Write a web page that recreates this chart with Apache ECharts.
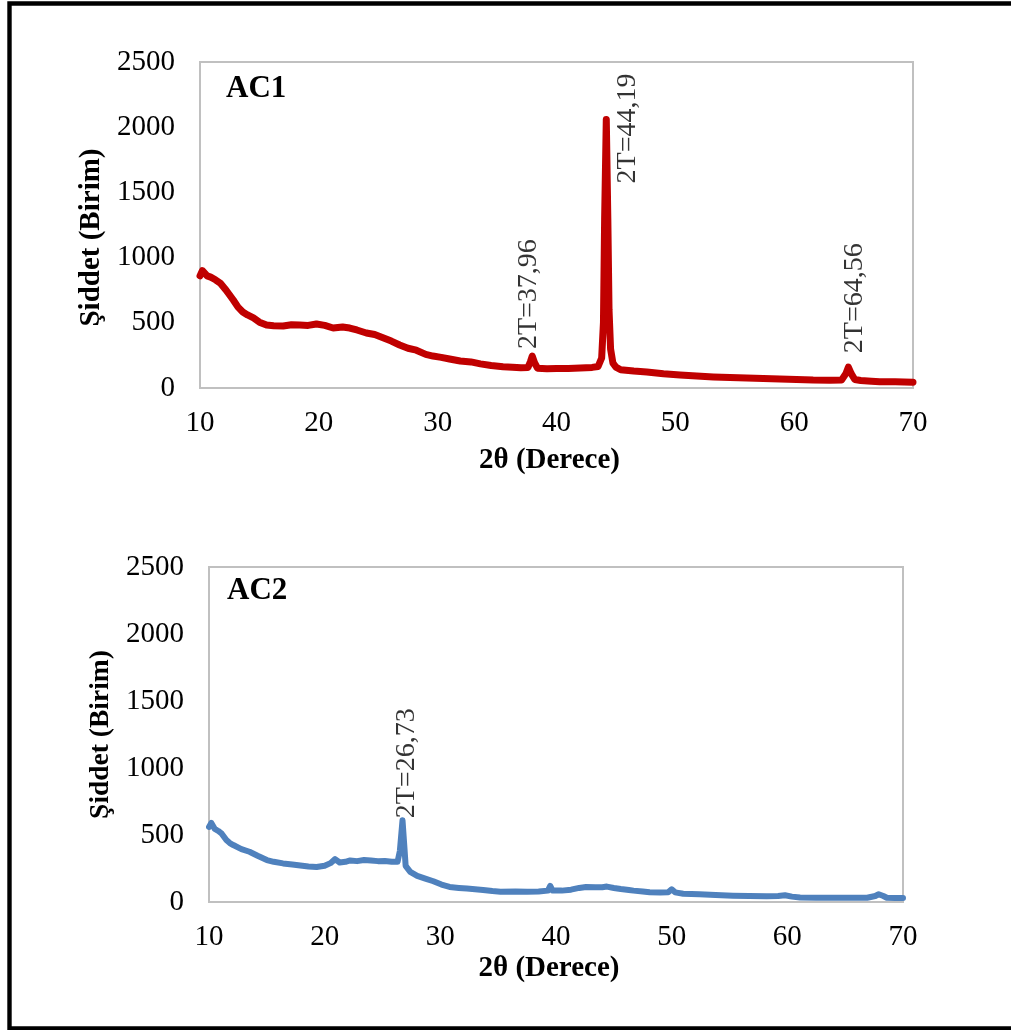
<!DOCTYPE html>
<html>
<head>
<meta charset="utf-8">
<title>XRD AC1 / AC2</title>
<script src="https://cdn.jsdelivr.net/npm/echarts@6/dist/echarts.min.js"></script>
<style>
  html, body { margin: 0; padding: 0; background: #fff; }
  #chart { width: 1011px; height: 1030px; }
</style>
</head>
<body>
<div id="chart"></div>
<script>
// 2θ (degrees) and intensity for sample AC1
const ac1Angle = [
  10.0, 10.2, 10.6, 10.9, 11.3, 11.7, 12.2, 12.8, 13.2, 13.6, 14.0, 14.5, 15.0, 15.6,
  16.2, 17.0, 17.7, 18.4, 19.1, 19.8, 20.5, 21.2, 22.0, 22.6, 23.2, 24.0, 24.7, 25.4,
  26.1, 26.8, 27.5, 28.2, 29.0, 29.6, 30.3, 31.0, 31.9, 32.8, 33.6, 34.5, 35.5, 36.3,
  37.0, 37.6, 37.8, 37.96, 38.15, 38.4, 39.2, 40.0, 41.0, 42.0, 43.0, 43.5, 43.8, 43.95,
  44.05, 44.19, 44.32, 44.42, 44.55, 44.75, 45.0, 45.4, 46.5, 47.6, 49.0, 50.4, 51.8,
  53.2, 54.6, 56.0, 57.4, 58.8, 60.2, 61.6, 63.0, 64.0, 64.35, 64.56, 64.8, 65.1, 65.6,
  66.5, 67.2, 68.5, 70.0
];
const ac1Intensity = [
  860, 900, 860, 850, 830, 805, 750, 675, 620, 583, 560, 537, 505, 483,
  478, 475, 485, 483, 480, 491, 480, 460, 468, 460, 445, 422, 410, 385,
  360, 330, 305, 290, 258, 245, 235, 222, 207, 200, 185, 172, 163, 160,
  155, 158, 200, 245, 195, 152, 148, 150, 150, 153, 158, 165, 230, 500,
  1300, 2060, 1300, 600, 300, 190, 160, 140, 130, 123, 110, 100, 92,
  85, 80, 77, 72, 69, 65, 61, 60, 62, 110, 160, 110, 65, 58,
  52, 48, 47, 45
];

// 2θ (degrees) and intensity for sample AC2
const ac2Angle = [
  10.0, 10.2, 10.5, 10.8, 11.1, 11.5, 11.8, 12.1, 12.8, 13.5, 14.2, 15.0, 15.6, 16.4,
  17.2, 17.9, 18.6, 19.3, 20.0, 20.5, 20.9, 21.3, 21.8, 22.2, 22.8, 23.4, 24.0, 24.6,
  25.2, 25.8, 26.3, 26.5, 26.73, 26.9, 27.0, 27.4, 28.0, 28.7, 29.4, 30.1, 30.8, 31.6,
  32.3, 33.0, 33.7, 34.5, 35.2, 36.5, 37.5, 38.5, 39.3, 39.5, 39.7, 40.5, 41.3, 42.0,
  42.6, 43.4, 44.0, 44.4, 45.0, 45.6, 46.3, 46.7, 47.5, 48.1, 49.0, 49.7, 50.0, 50.3,
  51.0, 52.4, 53.8, 55.3, 56.7, 58.2, 59.2, 59.8, 60.4, 61.1, 62.5, 64.0, 65.5, 66.9,
  67.6, 67.9, 68.3, 68.6, 69.3, 70.0
];
const ac2Intensity = [
  560, 590, 545, 530, 510, 463, 440, 425, 395, 375, 345, 313, 300, 288,
  280, 272, 265, 261, 270, 290, 320, 295, 300, 310, 305, 313, 310, 305,
  306, 300, 300, 380, 610, 400, 270, 225, 195, 175, 155, 130, 112, 105,
  100, 95, 90, 82, 77, 78, 76, 78, 85, 120, 85, 85, 92, 105,
  112, 110, 110, 115, 105, 97, 90, 85, 78, 72, 70, 72, 95, 72,
  62, 57, 52, 47, 45, 42, 45, 50, 40, 33, 32, 32, 31, 32,
  45, 58, 45, 32, 30, 30
];

// Labelled reflections (2θ)
const ac1Peaks = [37.96, 44.19, 64.56];
const ac2Peaks = [26.73];

// Axis ticks
const xTicks = [10, 20, 30, 40, 50, 60, 70];
const yTicks = [0, 500, 1000, 1500, 2000, 2500];

const FONT = "'Liberation Serif', 'Times New Roman', serif";
const GRID_BORDER = '#c0c0c0';

function pairs(xs, ys) { return xs.map((x, i) => [x, ys[i]]); }
function peakPoints(peaks, xs, ys) {
  return peaks.map(p => [p, ys[xs.indexOf(p)]]);
}
function peakText(v) { return '2T=' + v.toFixed(2).replace('.', ','); }

// Label placement (pixels from the peak top) for each labelled reflection
const ac1LabelShift = [[-4, -7], [21, 64], [6, -14]];
const ac2LabelShift = [[4, -2]];

function xAxisOf(gridIndex, gap) {
  return {
    type: 'value', gridIndex: gridIndex,
    min: xTicks[0], max: xTicks[xTicks.length - 1], interval: xTicks[1] - xTicks[0],
    name: '2θ (Derece)', nameLocation: 'middle', nameGap: gap,
    nameTextStyle: { fontFamily: FONT, fontSize: 29, fontWeight: 'bold', color: '#000', padding: [0, 14, 0, 0] },
    axisLine: { show: true, lineStyle: { color: GRID_BORDER, width: 2 } },
    axisTick: { show: false },
    splitLine: { show: false },
    axisLabel: { fontFamily: FONT, fontSize: 29, color: '#000', margin: 21, formatter: v => String(v) }
  };
}
function yAxisOf(gridIndex, gap, size, pad) {
  return {
    type: 'value', gridIndex: gridIndex,
    min: yTicks[0], max: yTicks[yTicks.length - 1], interval: yTicks[1] - yTicks[0],
    name: 'Şiddet (Birim)', nameLocation: 'middle', nameGap: gap,
    nameTextStyle: { fontFamily: FONT, fontSize: size, fontWeight: 'bold', color: '#000', padding: pad },
    axisLine: { show: true, lineStyle: { color: GRID_BORDER, width: 2 } },
    axisTick: { show: false },
    splitLine: { show: false },
    axisLabel: { fontFamily: FONT, fontSize: 29, color: '#000', margin: 25, formatter: v => String(v) }
  };
}
function labelSeries(idx, pts, shifts) {
  return {
    type: 'scatter', xAxisIndex: idx, yAxisIndex: idx,
    symbol: 'circle', symbolSize: 2,
    itemStyle: { color: 'rgba(0,0,0,0)' },
    silent: true, z: 5,
    data: pts.map((p, i) => ({
      value: p,
      label: {
        show: true,
        position: [1 + shifts[i][0], 1 + shifts[i][1]],
        rotate: 90, align: 'left', verticalAlign: 'middle',
        formatter: () => peakText(p[0]),
        fontFamily: FONT, fontSize: 28, color: '#000'
      }
    }))
  };
}

const chart = echarts.init(document.getElementById('chart'), null, { renderer: 'canvas' });
chart.setOption({
  animation: false,
  backgroundColor: '#fff',
  title: [
    { text: 'AC1', left: 226, top: 73, padding: 0,
      textStyle: { fontFamily: FONT, fontSize: 31, fontWeight: 'bold', color: '#000' } },
    { text: 'AC2', left: 227, top: 575, padding: 0,
      textStyle: { fontFamily: FONT, fontSize: 31, fontWeight: 'bold', color: '#000' } }
  ],
  grid: [
    { left: 200, top: 62, width: 713, height: 326, show: true, borderColor: GRID_BORDER, borderWidth: 2, containLabel: false },
    { left: 209, top: 567, width: 694, height: 335, show: true, borderColor: GRID_BORDER, borderWidth: 2, containLabel: false }
  ],
  xAxis: [xAxisOf(0, 58), xAxisOf(1, 52)],
  yAxis: [yAxisOf(0, 88, 29, [0, 25, 0, 0]), yAxisOf(1, 83, 27.5, 0)],
  series: [
    {
      type: 'line', xAxisIndex: 0, yAxisIndex: 0,
      data: pairs(ac1Angle, ac1Intensity),
      showSymbol: false, smooth: false,
      lineStyle: { color: '#c00000', width: 7, join: 'round', cap: 'round' }
    },
    {
      type: 'line', xAxisIndex: 1, yAxisIndex: 1,
      data: pairs(ac2Angle, ac2Intensity),
      showSymbol: false, smooth: false,
      lineStyle: { color: '#4f81bd', width: 6, join: 'round', cap: 'round' }
    },
    labelSeries(0, peakPoints(ac1Peaks, ac1Angle, ac1Intensity), ac1LabelShift),
    labelSeries(1, peakPoints(ac2Peaks, ac2Angle, ac2Intensity), ac2LabelShift)
  ],
  graphic: [
    { type: 'rect', silent: true, z: 100,
      shape: { x: 9.5, y: 3.5, width: 1100, height: 1025 },
      style: { fill: 'none', stroke: '#000', lineWidth: 4.4 } }
  ]
});
</script>
</body>
</html>
